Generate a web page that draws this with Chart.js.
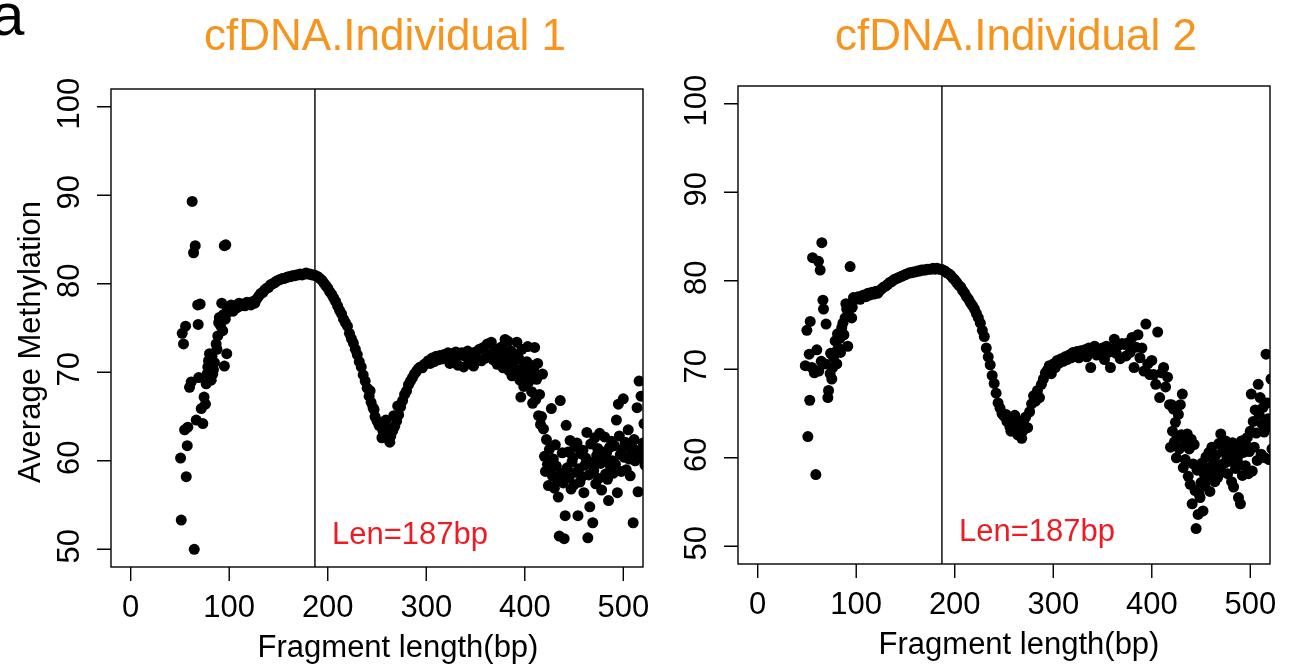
<!DOCTYPE html>
<html>
<head>
<meta charset="utf-8">
<script src="https://cdn.jsdelivr.net/npm/chart.js@4.4.1/dist/chart.umd.min.js"></script>
<style>
  html, body { margin: 0; padding: 0; background: #ffffff; }
  #wrap { position: relative; width: 1289px; height: 668px; overflow: hidden; }
  canvas { position: absolute; left: 0; top: 0; }
</style>
</head>
<body>
<div id="wrap">
  <canvas id="c1" width="1289" height="668"></canvas>
  <canvas id="c2" width="1289" height="668"></canvas>
</div>
<script>
// ---------------- DATA ----------------
const panelTitles = ["cfDNA.Individual 1", "cfDNA.Individual 2"];
const xTickValues = [0, 100, 200, 300, 400, 500];
const yTickValues = [50, 60, 70, 80, 90, 100];
const cutoffLen = 187;
const cutoffLabel = "Len=187bp";
const xTitle = "Fragment length(bp)";
const yTitle = "Average Methylation";

// Individual 1: fragment length (bp) and average methylation (%)
const len1 = [
  50.6,51.3,52.3,53.6,54.7,55.7,56.4,57.4,58,59.7,61.4,62.4,63.8,64.5,65.5,66.5,68,68.5,69,70.5,
  71.6,73.2,74.5,75.9,76.6,77.5,78.3,79,80,81.7,82.5,83.3,84,85,86.7,87.5,88.4,89.3,90,91,
  92.4,93.4,94,95,95.1,96,96.5,97.5,98,99,
  100,102,104,106,108,110,112,114,116,118,120,122,124,126,128,130,132,134,136,138,
  140,142,144,146,148,150,152,154,156,158,160,162,164,166,168,170,172,174,176,178,
  180,182,184,186,188,190,192,194,196,198,200,202,204,206,208,210,212,214,216,218,
  220,222,224,226,228,230,232,234,236,238,240,242,244,246,248,250,252,254,256,258,
  260,262,264,266,268,270,272,274,276,278,280,282,284,286,288,290,292,294,296,298,
  300,302,304,306,308,310,312,314,316,318,320,322,324,326,328,330,332,334,336,338,
  340,342,344,346,348,350,352,354,356,358,360,362,364,366,368,370,372,374,376,377,
  378,379,380,381,382,383,384,385,386,387,388,389,390,391,392,393,394,395,396,397,
  398,399,400,401,402,403,404,405,406,407,408,409,410,411,412,413,414,415,416,417,
  418,419,420,421,422,423,424,425,426,427,428,429,430,431,432,433,434,435,436,437,
  438,439,440,441,442,443,444,445,446,447,448,449,450,451,452,453,454,455,456,457,
  458,459,460,461,462,463,464,465,466,467,468,469,470,471,472,473,474,475,476,477,
  478,479,480,481,482,483,484,485,486,487,488,489,490,491,492,493,494,495,496,497,
  498,499,500,501,502,503,504,505,506,507,508,509,510,511,512,513,514,515,516,517,
  518,519,520,521,522,255,259,263,267,271,243,247
];
const meth1 = [
  60.3,53.3,74.4,73.2,63.5,75.2,58.2,61.7,63.8,68.3,68.9,89.3,83.5,50.0,84.3,64.6,77.6,75.4,69.4,77.7,
  65.9,64.2,67.2,66.4,68.7,69.8,70.6,71.3,72.1,69.1,71.8,69.8,70.3,71.1,73.2,72.6,74.1,75.6,76.2,75.3,
  77.8,74.7,76.5,84.3,70.7,76.0,84.4,72.1,77.3,76.8,
  77.2,77.6,76.9,77.5,77.3,77.8,77.5,77.7,77.5,77.9,77.8,77.6,78.0,77.8,78.3,78.6,78.9,79.0,79.3,79.5,
  79.6,79.9,80.0,80.1,80.3,80.4,80.5,80.6,80.6,80.7,80.8,80.8,80.9,80.9,81.0,81.0,81.1,81.0,81.1,81.2,
  81.1,81.1,81.0,81.0,80.9,80.8,80.6,80.4,80.1,79.8,79.5,79.1,78.8,78.4,78.0,77.5,77.0,76.6,76.0,75.6,
  75.2,74.4,73.8,73.3,72.6,72.0,71.2,70.6,69.7,69.0,68.2,67.3,66.6,66.0,65.0,64.5,64.0,63.9,63.4,63.8,
  63.1,63.6,62.8,63.4,63.9,64.5,65.2,66.1,66.8,67.5,67.9,68.6,69.0,69.4,69.8,70.1,70.4,70.6,70.5,70.9,
  71.0,71.3,71.0,71.6,71.2,71.8,71.4,71.9,71.5,72.0,71.6,72.2,71.0,72.1,71.7,72.3,70.8,71.9,72.2,70.6,
  71.8,72.4,71.2,72.0,70.7,72.3,71.5,72.6,71.3,72.8,71.6,73.2,72.0,73.4,71.4,72.5,70.9,72.7,71.8,72.9,
  70.5,71.0,73.7,72.2,71.2,73.5,70.2,71.7,72.4,69.6,70.8,72.0,69.9,70.3,73.4,71.8,71.5,69.1,67.2,72.6,
  70.5,68.4,69.6,70.1,71.2,72.9,68.9,69.5,70.8,67.8,66.5,70.2,72.8,66.9,69.2,71.0,65.1,67.5,64.1,65.0,
  69.8,63.6,60.5,58.8,62.4,59.6,57.2,61.3,59.0,65.9,58.3,60.2,56.9,61.8,59.4,57.8,55.9,51.5,66.8,58.6,
  60.9,57.5,51.2,53.8,64.0,59.2,61.0,58.1,62.3,56.8,59.9,60.4,57.3,61.6,58.7,62.0,53.8,59.1,57.6,60.8,
  58.2,61.2,56.4,59.5,60.3,63.2,51.3,58.4,54.8,61.9,59.8,53.0,58.9,62.6,57.4,60.6,61.4,58.0,63.1,59.7,
  56.7,61.0,60.1,62.7,58.5,60.9,57.9,55.5,61.5,59.3,62.2,60.0,58.6,61.7,59.6,64.6,56.4,66.4,62.8,60.7,
  58.8,61.3,67.0,60.4,62.1,59.0,61.6,63.5,60.2,58.3,61.9,60.8,53.0,62.4,60.0,61.2,66.0,56.5,69.0,61.0,
  67.3,60.3,62.0,64.2,59.5,62.6,64.6,62.1,65.1,66.2,67.9,65.8
];

// Individual 2: fragment length (bp) and average methylation (%)
const len2 = [
  48.3,49.9,50.9,52.3,52.8,53.3,55,55.7,57.5,59,60,61.7,62,63.4,64.5,65.1,66.2,66.8,68.5,69.4,
  71.2,71.9,73.5,74,75.2,76,77,78.6,79.5,80.3,81,82,83.5,84,85.3,86.5,87.5,88.7,89.5,90.3,
  91.4,92,93.8,94.5,95.4,96,97.2,99,
  100,102,104,106,108,110,112,114,116,118,120,122,124,126,128,130,132,134,136,138,
  140,142,144,146,148,150,152,154,156,158,160,162,164,166,168,170,172,174,176,178,
  180,182,184,186,188,190,192,194,196,198,200,202,204,206,208,210,212,214,216,218,
  220,222,224,226,228,230,232,234,236,238,240,242,244,246,248,250,252,254,256,258,
  260,262,264,266,268,270,272,274,276,278,280,282,284,286,288,290,292,294,296,298,
  300,302,304,306,308,310,312,314,316,318,320,322,324,326,328,330,332,334,336,338,
  340,342,344,346,348,350,352,354,356,358,360,362,364,366,368,370,372,374,376,378,
  380,382,384,386,388,390,392,394,396,398,400,402,404,406,408,410,412,414,416,418,
  419,420,421,422,423,424,425,426,427,428,429,430,431,432,433,434,435,436,437,438,
  439,440,441,442,443,444,445,446,447,448,449,450,451,452,453,454,455,456,457,458,
  459,460,461,462,463,464,465,466,467,468,469,470,471,472,473,474,475,476,477,478,
  479,480,481,482,483,484,485,486,487,488,489,490,491,492,493,494,495,496,497,498,
  499,500,501,502,503,504,505,506,507,508,509,510,511,512,513,514,515,516,517,518,
  519,520,521,522,253,257,261,265,269
];
const meth2 = [
  70.4,74.4,62.4,71.7,66.5,75.4,70.2,82.6,69.6,58.1,72.2,82.2,69.8,81.2,70.9,84.3,77.8,76.8,70.6,75.1,
  66.8,67.6,69.5,71.8,68.9,70.2,71.3,73.2,72.0,70.6,74.0,72.4,73.5,71.9,74.7,75.2,73.9,75.8,77.4,76.8,
  72.6,76.3,81.6,77.3,75.8,77.0,78.1,77.9,
  78.0,78.2,77.9,78.3,78.4,78.2,78.6,78.4,78.7,78.5,78.8,78.6,78.9,79.1,79.3,79.4,79.6,79.8,79.9,80.1,
  80.2,80.3,80.4,80.5,80.6,80.7,80.8,80.9,80.9,81.0,81.0,81.1,81.1,81.2,81.2,81.2,81.3,81.3,81.3,81.4,
  81.3,81.4,81.3,81.3,81.2,81.1,80.9,80.8,80.6,80.3,80.1,79.8,79.5,79.3,78.9,78.6,78.2,77.9,77.5,77.2,
  76.8,76.3,75.8,75.2,74.4,73.7,72.4,71.4,70.5,69.3,68.4,67.3,66.2,65.6,65.0,64.7,64.9,64.5,63.5,64.6,
  63.2,64.4,62.6,63.9,62.2,64.2,64.6,63.4,65.2,66.1,67.0,66.4,67.6,66.8,68.3,68.9,69.6,69.9,70.4,69.5,
  70.6,70.2,71.0,70.7,71.2,70.9,71.4,71.1,71.6,71.3,71.9,71.5,72.0,71.3,72.1,71.7,72.2,71.4,72.4,70.2,
  72.0,72.6,71.6,72.3,71.8,72.4,71.1,72.6,71.9,70.2,72.3,73.4,71.8,72.7,71.2,72.9,72.8,71.5,73.0,71.9,
  73.6,70.2,72.5,73.9,71.3,72.4,69.8,75.1,70.6,69.4,71.0,69.4,68.3,74.2,66.8,69.6,70.2,68.0,69.1,66.0,
  61.2,66.0,63.0,65.5,61.8,64.0,60.0,62.3,64.9,61.0,66.0,62.6,67.2,58.9,61.4,59.8,62.2,62.7,57.9,61.0,
  57.0,62.1,54.8,59.3,61.5,56.3,52.0,58.6,53.6,55.9,55.5,57.2,59.4,54.0,58.2,56.8,60.1,58.5,57.6,60.6,
  56.2,59.0,61.2,58.1,59.7,57.3,60.3,58.9,57.8,61.6,59.2,62.7,58.4,60.8,61.5,59.4,61.9,60.2,58.2,61.1,
  59.6,60.4,57.3,61.7,56.7,60.9,58.8,61.3,60.0,55.5,59.2,54.8,61.9,58.0,60.6,62.0,59.1,61.4,62.3,58.2,
  60.7,63.0,67.2,58.5,64.1,61.2,65.4,62.8,59.7,68.3,64.9,66.8,60.4,63.8,65.7,62.9,60.0,71.7,66.2,64.4,
  59.8,63.5,68.9,61.0,64.1,63.0,64.8,63.6,63.0
];

// ---------------- LAYOUT (page pixels) ----------------
const W = 1289, H = 668;
const FONT = '"Liberation Sans", Arial, Helvetica, sans-serif';
const panels = [
  { canvas: 'c1', len: len1, meth: meth1, title: panelTitles[0], box: { left: 111, right: 643, top: 89, bottom: 567 },
    titleX: 385, xTitleX: 398, yTitle: true, tag: true },
  { canvas: 'c2', len: len2, meth: meth2, title: panelTitles[1], box: { left: 738, right: 1270, top: 86, bottom: 564 },
    titleX: 1016, xTitleX: 1019, yTitle: false, tag: false }
];

function decorPlugin(p) {
  return {
    id: 'decor',
    afterDatasetsDraw(chart) {
      const { ctx, chartArea: a, scales: { x, y } } = chart;
      ctx.save();
      ctx.strokeStyle = '#000';
      ctx.lineWidth = 1.4;
      // box
      ctx.strokeRect(a.left, a.top, a.right - a.left, a.bottom - a.top);
      // cutoff line
      const vx = x.getPixelForValue(cutoffLen);
      ctx.beginPath();
      ctx.moveTo(vx, a.top); ctx.lineTo(vx, a.bottom);
      // tick marks
      xTickValues.forEach(v => { const px = x.getPixelForValue(v); ctx.moveTo(px, a.bottom); ctx.lineTo(px, a.bottom + 14); });
      yTickValues.forEach(v => { const py = y.getPixelForValue(v); ctx.moveTo(a.left, py); ctx.lineTo(a.left - 14, py); });
      ctx.stroke();

      // x tick labels
      ctx.fillStyle = '#000';
      ctx.font = '31px ' + FONT;
      ctx.textAlign = 'center';
      ctx.textBaseline = 'alphabetic';
      xTickValues.forEach(v => ctx.fillText(String(v), x.getPixelForValue(v), a.bottom + 50));
      // y tick labels (rotated like R's default)
      yTickValues.forEach(v => {
        const py = y.getPixelForValue(v);
        ctx.save();
        ctx.translate(a.left - 32, py - 3);
        ctx.rotate(-Math.PI / 2);
        ctx.fillText(String(v), 0, 0);
        ctx.restore();
      });
      // x title
      ctx.fillText(xTitle, p.xTitleX, a.bottom + 90);
      // y title
      if (p.yTitle) {
        ctx.save();
        ctx.translate(40, (a.top + a.bottom) / 2 + 14);
        ctx.rotate(-Math.PI / 2);
        ctx.fillText(yTitle, 0, 0);
        ctx.restore();
      }
      // cutoff label
      ctx.fillStyle = '#ED1C24';
      ctx.textAlign = 'left';
      ctx.fillText(cutoffLabel, vx + 17, a.bottom - 23);
      // panel title
      ctx.fillStyle = '#F7941D';
      ctx.textAlign = 'center';
      ctx.font = '44px ' + FONT;
      ctx.fillText(p.title, p.titleX, 50);
      // figure tag
      if (p.tag) {
        ctx.fillStyle = '#000';
        ctx.textAlign = 'left';
        ctx.font = '60px ' + FONT;
        ctx.fillText('a', -9, 35);
      }
      ctx.restore();
    }
  };
}

panels.forEach(p => {
  const pts = p.len.map((v, i) => ({ x: v, y: p.meth[i] }));
  new Chart(document.getElementById(p.canvas), {
    type: 'scatter',
    data: {
      datasets: [{
        data: pts,
        backgroundColor: '#000000',
        borderColor: '#000000',
        borderWidth: 0,
        pointRadius: 5.5,
        pointHoverRadius: 5.5,
        clip: 0
      }]
    },
    options: {
      responsive: false,
      animation: false,
      events: [],
      layout: { padding: { left: p.box.left, top: p.box.top, right: W - p.box.right, bottom: H - p.box.bottom } },
      scales: {
        x: { type: 'linear', min: -20, max: 520, display: false },
        y: { type: 'linear', min: 48, max: 102, display: false }
      },
      plugins: { legend: { display: false }, tooltip: { enabled: false }, title: { display: false } }
    },
    plugins: [decorPlugin(p)]
  });
});
</script>
</body>
</html>
